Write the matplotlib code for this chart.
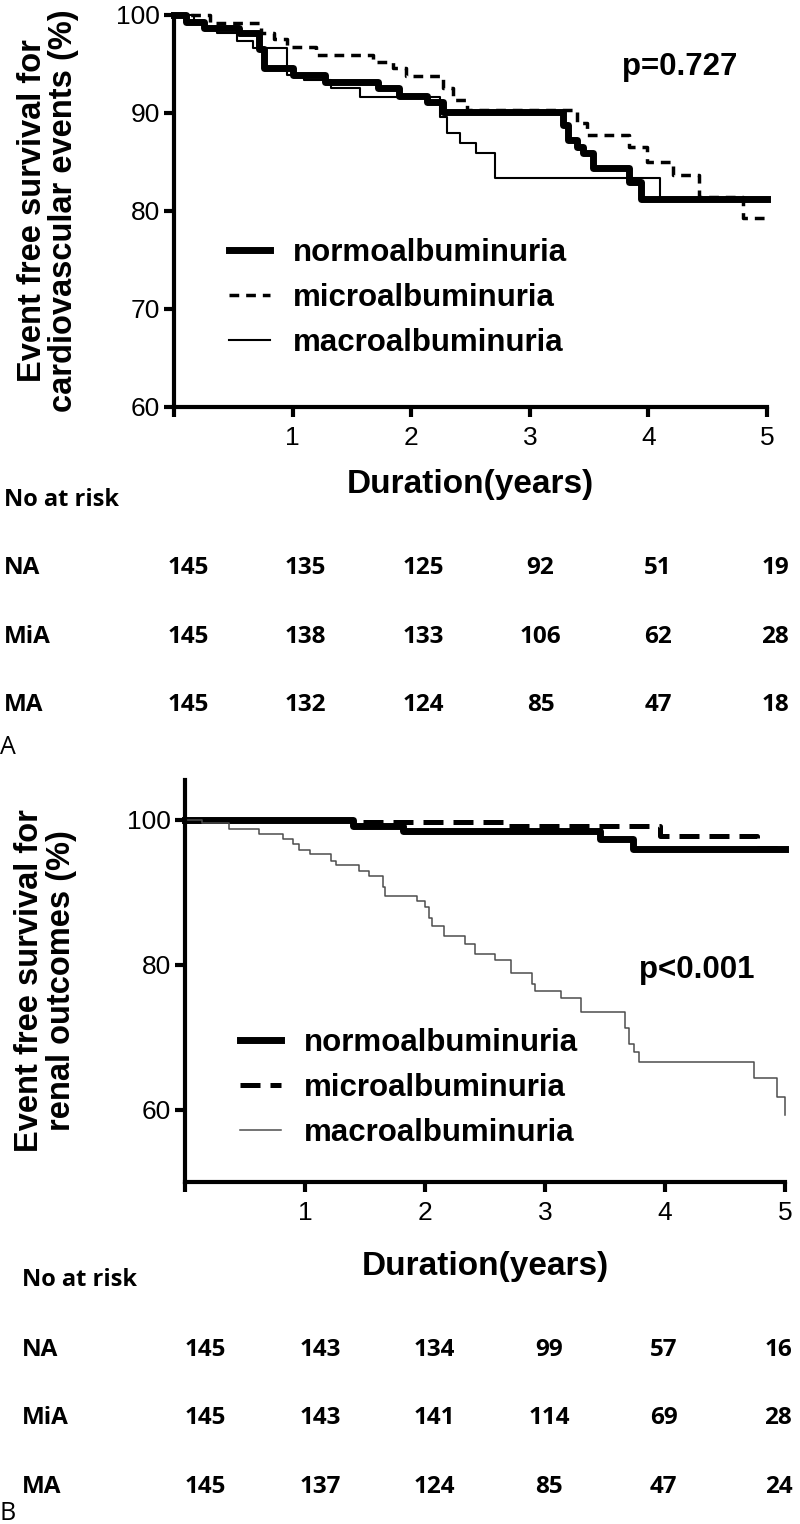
import matplotlib.pyplot as plt
import matplotlib.transforms as mtransforms

plt.rcParams['font.family'] = ['Liberation Sans', 'DejaVu Sans']

# panel A: cardiovascular events (step curves)
cv_na_t = [0, 0.10, 0.25, 0.55, 0.72, 0.76, 1.00, 1.27, 1.72, 1.90, 2.13, 2.27,
           3.28, 3.32, 3.40, 3.45, 3.53, 3.84, 3.94, 5.0]
cv_na_s = [100, 99.3, 98.7, 98.2, 96.5, 94.6, 93.9, 93.2, 92.5, 91.7, 91.1, 90.1,
           88.8, 87.2, 86.5, 85.9, 84.4, 83.0, 81.2, 81.2]
cv_mia_t = [0, 0.30, 0.73, 0.84, 0.95, 1.20, 1.68, 1.85, 1.96, 2.27, 2.35, 2.47,
            3.40, 3.48, 3.84, 3.99, 4.21, 4.43, 4.80, 5.0]
cv_mia_s = [100, 99.2, 98.2, 97.6, 96.7, 95.9, 95.2, 94.6, 93.8, 92.5, 91.3, 90.3,
            89.0, 87.8, 86.5, 85.0, 83.7, 81.4, 79.3, 79.3]
cv_ma_t = [0, 0.17, 0.25, 0.36, 0.53, 0.67, 0.95, 1.10, 1.32, 1.57, 2.24, 2.30,
           2.41, 2.55, 2.71, 4.10, 5.0]
cv_ma_s = [100, 99.2, 98.7, 98.2, 97.3, 96.6, 93.9, 93.4, 92.5, 91.6, 89.6, 88.0,
           86.9, 85.9, 83.4, 81.3, 81.3]

# panel B: renal outcomes
rn_na_t = [0, 1.40, 1.82, 3.46, 3.73, 5.0]
rn_na_s = [100, 99.2, 98.5, 97.4, 96.0, 96.0]
rn_mia_t = [0, 1.40, 2.67, 3.96, 4.77, 5.0]
rn_mia_s = [100, 99.7, 99.2, 97.8, 96.1, 96.1]
rn_ma_t = [0, 0.14, 0.37, 0.62, 0.82, 0.90, 0.95, 1.04, 1.22, 1.26, 1.45, 1.53,
           1.65, 1.67, 1.93, 2.00, 2.03, 2.06, 2.16, 2.33, 2.42, 2.58, 2.72, 2.89,
           2.92, 3.13, 3.30, 3.67, 3.70, 3.74, 3.78, 4.74, 4.93, 5.0]
rn_ma_s = [100, 99.6, 98.8, 98.1, 97.4, 96.7, 95.9, 95.3, 94.3, 93.7, 93.0, 92.3,
           90.7, 89.5, 88.8, 87.9, 86.5, 85.4, 83.9, 82.9, 81.5, 80.7, 78.9, 77.4,
           76.4, 75.4, 73.5, 71.2, 69.1, 67.9, 66.5, 64.3, 61.7, 59.3]

groups = ['normoalbuminuria', 'microalbuminuria', 'macroalbuminuria']
risk_rows = ['NA', 'MiA', 'MA']
years = [0, 1, 2, 3, 4, 5]
cv_risk = [[145, 135, 125, 92, 51, 19],
           [145, 138, 133, 106, 62, 28],
           [145, 132, 124, 85, 47, 18]]
rn_risk = [[145, 143, 134, 99, 57, 16],
           [145, 143, 141, 114, 69, 28],
           [145, 137, 124, 85, 47, 24]]

W, H = 800, 1524
fig = plt.figure(figsize=(W / 100, H / 100), dpi=100)
ax1 = fig.add_axes([174 / W, 1 - 407 / H, 593 / W, 392 / H])
ax2 = fig.add_axes([185 / W, 1 - 1182 / H, 600 / W, 402 / H])


def style(ax, yt):
    for s in ['top', 'right']:
        ax.spines[s].set_visible(False)
    for s in ['left', 'bottom']:
        ax.spines[s].set_linewidth(3)
    ax.set_xlim(0, 5)
    ax.set_xticks(years)
    ax.set_xticklabels([''] + [str(y) for y in years[1:]])
    ax.set_yticks(yt)
    ax.tick_params(width=3, length=7, labelsize=19)
    ax.tick_params(axis='x', pad=7)
    ax.tick_params(axis='y', pad=3)


leg_kw = dict(loc='center left', frameon=False, borderpad=0, borderaxespad=0,
              handlelength=1.3, handletextpad=0.75, labelspacing=0.47,
              prop={'size': 22.5, 'weight': 'bold'})

# panel A
ax1.step(cv_na_t, cv_na_s, where='post', color='k', lw=5, clip_on=False, label=groups[0])
ax1.step(cv_mia_t, cv_mia_s, where='post', color='k', lw=2.5, dashes=(2.8, 2),
         clip_on=False, label=groups[1])
ax1.step(cv_ma_t, cv_ma_s, where='post', color='k', lw=1.5, clip_on=False, label=groups[2])
ax1.set_ylim(60, 100)
style(ax1, [60, 70, 80, 90, 100])
ax1.legend(bbox_to_anchor=(0.093, 0.278), **leg_kw)
ax1.text(0.853, 0.867, 'p=0.727', transform=ax1.transAxes, ha='center', va='center',
         fontsize=22.5, fontweight='bold')
ax1.text(-0.2125, 0.5, 'Event free survival for\ncardiovascular events (%)',
         transform=ax1.transAxes, rotation=90, ha='center', va='center',
         fontsize=23.5, fontweight='bold', linespacing=1.0)

# panel B
ax2.step(rn_na_t, rn_na_s, where='post', color='k', lw=5, clip_on=False, label=groups[0])
ax2.step(rn_mia_t, rn_mia_s, where='post', color='k', lw=3.6, dashes=(4, 2),
         clip_on=False, label=groups[1])
ax2.step(rn_ma_t, rn_ma_s, where='post', color='#4d4d4d', lw=1.1, clip_on=False,
         label=groups[2])
ax2.set_ylim(50, 105.5)
style(ax2, [60, 80, 100])
ax2.legend(bbox_to_anchor=(0.092, 0.234), **leg_kw)
ax2.text(0.853, 0.527, 'p<0.001', transform=ax2.transAxes, ha='center', va='center',
         fontsize=22.5, fontweight='bold')
ax2.text(-0.2325, 0.5, 'Event free survival for\nrenal outcomes (%)',
         transform=ax2.transAxes, rotation=90, ha='center', va='center',
         fontsize=23.5, fontweight='bold', linespacing=1.05)


def risk_table(ax, counts, y_title, y_xlab, y_rows, x_left, shift, drift, letter, y_letter):
    tr = mtransforms.blended_transform_factory(ax.transData, fig.transFigure)
    ax.text(2.5, 1 - y_xlab / H, 'Duration(years)', transform=tr, ha='center',
            va='center', fontsize=24, fontweight='bold')
    fig.text(x_left / W, 1 - y_title / H, 'No at risk', ha='left', va='center',
             fontsize=17, fontweight='bold', family='Open Sans')
    for name, row, yr in zip(risk_rows, counts, y_rows):
        fig.text(x_left / W, 1 - yr / H, name, ha='left', va='center',
                 fontsize=17.5, fontweight='bold', family='Open Sans')
        for t, n in zip(years, row):
            ax.text(t + shift - drift * t, 1 - yr / H, str(n), transform=tr,
                    ha='center', va='center', fontsize=17.5, fontweight='bold',
                    family='Open Sans')
    fig.text(0.0, 1 - y_letter / H, letter, ha='left', va='center', fontsize=18,
             family='Open Sans')


risk_table(ax1, cv_risk, 500, 485, [568, 637, 705], 4, 0.12, 0.01, 'A', 747)
risk_table(ax2, rn_risk, 1280, 1267, [1350, 1418, 1487], 22, 0.17, 0.045, 'B', 1513)

fig.savefig('out.png', dpi=100)
